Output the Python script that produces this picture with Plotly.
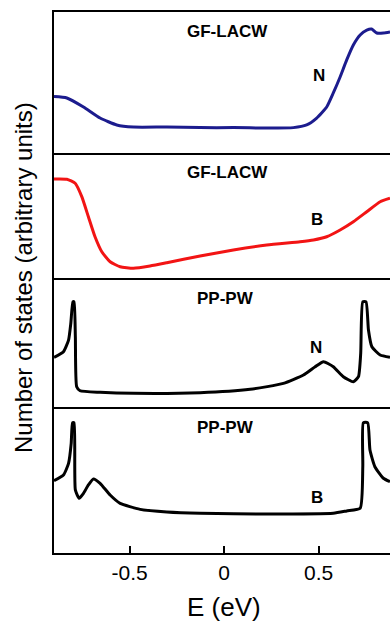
import plotly.graph_objects as go

# Panel 1: GF-LACW, N (blue)
e1 = [-0.9, -0.832, -0.744, -0.656, -0.568, -0.48, -0.303, -0.127, 0.049, 0.226, 0.367, 0.437, 0.49, 0.543,
      0.578, 0.614, 0.649, 0.684, 0.72, 0.755, 0.781, 0.808, 0.843, 0.878]
d1 = [0.40, 0.39, 0.326, 0.248, 0.199, 0.184, 0.184, 0.18, 0.18, 0.177, 0.18, 0.199, 0.248, 0.326,
      0.426, 0.539, 0.66, 0.766, 0.837, 0.872, 0.879, 0.851, 0.851, 0.858]

# Panel 2: GF-LACW, B (red)
e2 = [-0.9, -0.832, -0.788, -0.753, -0.718, -0.683, -0.647, -0.603, -0.55, -0.48, -0.392, -0.303, -0.127,
      0.049, 0.226, 0.402, 0.473, 0.543, 0.614, 0.684, 0.755, 0.826, 0.878]
d2 = [0.792, 0.79, 0.758, 0.651, 0.49, 0.33, 0.21, 0.13, 0.09, 0.078, 0.096, 0.122, 0.176,
      0.224, 0.264, 0.29, 0.304, 0.33, 0.384, 0.45, 0.53, 0.61, 0.638]

# Panel 3: PP-PW, N (black)
e3 = [-0.9, -0.85, -0.823, -0.811, -0.8, -0.794, -0.787, -0.78, -0.762, -0.656, -0.48, -0.127, 0.138,
      0.314, 0.42, 0.482, 0.526, 0.578, 0.631, 0.684, 0.711, 0.723, 0.734, 0.751, 0.764, 0.782, 0.826, 0.878]
d3 = [0.385, 0.429, 0.519, 0.649, 0.816, 0.816, 0.545, 0.157, 0.126, 0.114, 0.106, 0.111, 0.137,
      0.183, 0.248, 0.312, 0.351, 0.312, 0.235, 0.196, 0.235, 0.416, 0.816, 0.816, 0.597, 0.467, 0.403, 0.385]

# Panel 4: PP-PW, B (black)
e4 = [-0.9, -0.85, -0.823, -0.809, -0.802, -0.794, -0.787, -0.767, -0.744, -0.718, -0.691, -0.656, -0.603,
      -0.55, -0.444, -0.303, -0.127, 0.226, 0.578, 0.649, 0.72, 0.734, 0.737, 0.76, 0.772, 0.798, 0.843, 0.878]
d4 = [0.495, 0.534, 0.614, 0.751, 0.892, 0.892, 0.432, 0.375, 0.409, 0.466, 0.507, 0.477, 0.397,
      0.34, 0.299, 0.281, 0.272, 0.267, 0.272, 0.288, 0.306, 0.591, 0.892, 0.892, 0.705, 0.591, 0.512, 0.489]

method_labels = ["GF-LACW", "GF-LACW", "PP-PW", "PP-PW"]
method_pos = [(0.02, 0.865), (0.02, 0.84), (0.01, 0.845), (0.01, 0.863)]
site_labels = ["N", "B", "N", "B"]
site_pos = [(0.503, 0.553), (0.492, 0.464), (0.487, 0.465), (0.492, 0.377)]

x_ticks = [-0.5, 0, 0.5]
x_tick_text = ["-0.5", "0", "0.5"]

series = [(e1, d1, "#1c1c8e"), (e2, d2, "#f21414"), (e3, d3, "#000000"), (e4, d4, "#000000")]

H = 622
top_px, bot_px = 12, 553
bounds = [12, 153, 278, 407, 553]
span = bot_px - top_px
domains = []
for i in range(4):
    domains.append([(bot_px - bounds[i + 1]) / span, (bot_px - bounds[i]) / span])

FONT = "Arial, Liberation Sans, sans-serif"
fig = go.Figure()
for i, (ex, dy, col) in enumerate(series):
    n = i + 1
    fig.add_trace(go.Scatter(x=ex, y=dy, mode="lines", line=dict(color=col, width=3, shape="spline", smoothing=0.5),
                             xaxis=f"x{n}", yaxis=f"y{n}", showlegend=False, hoverinfo="skip"))

layout = dict(width=390, height=H, margin=dict(l=54, r=0, t=top_px, b=H - bot_px),
              paper_bgcolor="white", plot_bgcolor="white", showlegend=False,
              font=dict(family=FONT, color="black"))
for i in range(4):
    n = i + 1
    xa = "xaxis" if n == 1 else f"xaxis{n}"
    ya = "yaxis" if n == 1 else f"yaxis{n}"
    last = (n == 4)
    layout[xa] = dict(range=[-0.9, 0.878], domain=[0, 1], anchor=f"y{n}",
                      showline=True, mirror=(n == 1), linecolor="black", linewidth=2,
                      showgrid=False, zeroline=False,
                      tickmode="array", tickvals=x_ticks, ticktext=x_tick_text,
                      ticks="inside" if last else "", ticklen=7, tickwidth=1.5, tickcolor="black",
                      showticklabels=last, tickfont=dict(size=21, family=FONT, color="black"))
    layout[ya] = dict(range=[0, 1], domain=domains[i], anchor=f"x{n}",
                      showline=True, linecolor="black", linewidth=2, mirror=False,
                      showgrid=False, zeroline=False, showticklabels=False, ticks="")
fig.update_layout(**layout)

ann = []
for i in range(4):
    n = i + 1
    ann.append(dict(x=method_pos[i][0], y=method_pos[i][1], xref=f"x{n}", yref=f"y{n}",
                    text=f"<b>{method_labels[i]}</b>", showarrow=False,
                    font=dict(size=17, family=FONT, color="black"), xanchor="center", yanchor="middle"))
    ann.append(dict(x=site_pos[i][0], y=site_pos[i][1], xref=f"x{n}", yref=f"y{n}",
                    text=f"<b>{site_labels[i]}</b>", showarrow=False,
                    font=dict(size=17, family=FONT, color="black"), xanchor="center", yanchor="middle"))
ann.append(dict(x=(224 - 54) / (390 - 54), y=-(607 - bot_px) / span, xref="paper", yref="paper",
                text="E (eV)", showarrow=False, font=dict(size=26, family=FONT, color="black"),
                xanchor="center", yanchor="middle"))
ann.append(dict(x=-(54 - 23) / (390 - 54), y=(bot_px - 278) / span, xref="paper", yref="paper",
                text="Number of states (arbitrary units)", textangle=-90, showarrow=False,
                font=dict(size=24, family=FONT, color="black"), xanchor="center", yanchor="middle"))
fig.update_layout(annotations=ann)

fig.write_html("out.html")
